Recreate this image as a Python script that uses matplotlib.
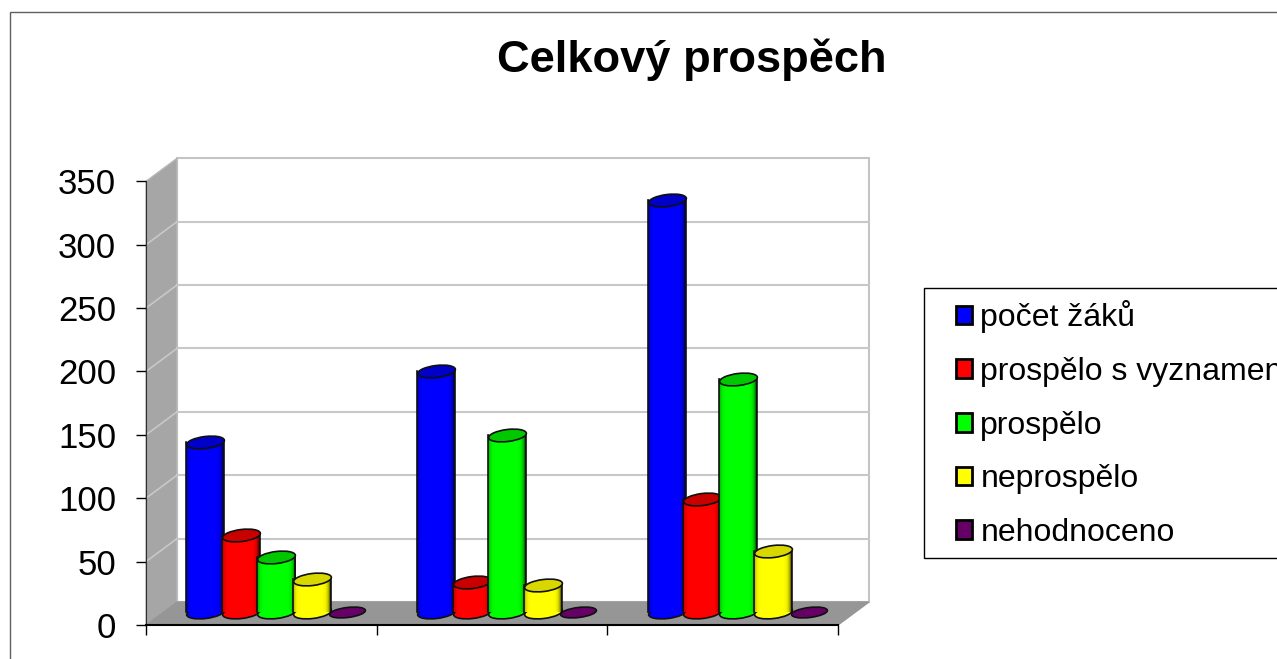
import numpy as np
import matplotlib
matplotlib.use('Agg')
import matplotlib.pyplot as plt
from matplotlib.collections import EllipseCollection
from matplotlib.patches import Polygon, Rectangle
from matplotlib.transforms import ScaledTranslation

plt.rcParams['font.family'] = ['Liberation Sans', 'DejaVu Sans']

title = 'Celkový prospěch'
series = ['počet žáků', 'prospělo s vyznamenáním', 'prospělo', 'neprospělo', 'nehodnoceno']
colors = ['#0000ff', '#ff0000', '#00ff00', '#ffff00', '#660066']
top_colors = ['#0000c8', '#c80000', '#00c800', '#d8d800', '#660066']
yticks = [0, 50, 100, 150, 200, 250, 300, 350]

pocet = [134, 190, 325]
vyznamenani = [61, 24, 89]
prospelo = [43, 140, 184]
neprospelo = [26, 21, 48]
nehodnoceno = [0, 0, 0]
values = [pocet, vyznamenani, prospelo, neprospelo, nehodnoceno]

W, H = 1277, 659
fig = plt.figure(figsize=(W / 100, H / 100), dpi=100)
fig.patch.set_facecolor('white')

# chart frame runs off the right and bottom edge of the image
fig.add_artist(Rectangle((9.5 / W, -0.1), 1.2, 1.1 - 11.5 / H, transform=fig.transFigure,
                         fill=False, edgecolor='#606060', linewidth=1))

left, right, top, bottom = 146, 838, 181.3, 625
ax = fig.add_axes([left / W, 1 - bottom / H, (right - left) / W, (bottom - top) / H])
ax.patch.set_visible(False)
px_x = (right - left) / 3
px_y = (bottom - top) / 350
dx, dy = 31 / px_x, 23 / px_y

# walls and floor
ax.add_patch(Polygon([(dx, dy), (3 + dx, dy), (3 + dx, 350 + dy), (dx, 350 + dy)], closed=True,
                     facecolor='white', edgecolor='#c4c4c4', linewidth=1.5, clip_on=False, zorder=1))
ax.add_patch(Polygon([(0, 0), (dx, dy), (dx, 350 + dy), (0, 350)], closed=True,
                     facecolor='#a6a6a6', edgecolor='#b8b8b8', linewidth=1, clip_on=False, zorder=1))
ax.add_patch(Polygon([(0, 0), (3, 0), (3 + dx, dy), (dx, dy)], closed=True,
                     facecolor='#969696', edgecolor='#969696', linewidth=1, clip_on=False, zorder=1))
for v in yticks[1:-1]:
    ax.plot([dx, 3 + dx], [v + dy, v + dy], color='#c8c8c8', lw=1.5, clip_on=False, zorder=1.5)
    ax.plot([0, dx], [v, v + dy], color='#c8c8c8', lw=1.2, clip_on=False, zorder=1.5)

# cylinders stand in the middle of the floor depth
shift = ScaledTranslation(15 / 100, 13 / 100, fig.dpi_scale_trans)
trans = ax.transData + shift

bar_step = 35.5 / px_x
bar_w = 38 / px_x
shade = np.zeros((1, 64, 4))
shade[0, :, 3] = np.abs(np.linspace(-1, 1, 64) + 0.05) ** 9 * 0.6
z = 3
for i in range(3):
    for j in range(5):
        x = i + 0.5 + (j - 2) * bar_step
        v = values[j][i]
        z += 1
        w = 38 if v > 0 else 36
        h = 12 if v > 0 else 10
        if v > 0:
            ec = EllipseCollection([w], [h], [7], units='dots', offsets=[(x, 0)], offset_transform=trans,
                                   facecolors=colors[j], edgecolors='#101010', linewidths=1.2, zorder=z)
            ax.add_collection(ec, autolim=False)
            ax.bar(x, v, width=bar_w, color=colors[j], transform=trans, zorder=z + 0.1, clip_on=False)
            ax.imshow(shade, extent=(x - bar_w / 2, x + bar_w / 2, 0, v), aspect='auto', transform=trans,
                      zorder=z + 0.2, clip_on=False, interpolation='bilinear')
            ax.plot([x - bar_w / 2, x - bar_w / 2], [0, v], color='#101010', lw=1.2, transform=trans,
                    zorder=z + 0.3, clip_on=False)
            ax.plot([x + bar_w / 2, x + bar_w / 2], [0, v], color='#101010', lw=1.2, transform=trans,
                    zorder=z + 0.3, clip_on=False)
        ec = EllipseCollection([w], [h], [7], units='dots', offsets=[(x, v)], offset_transform=trans,
                               facecolors=top_colors[j], edgecolors='#101010', linewidths=1.2, zorder=z + 0.4)
        ax.add_collection(ec, autolim=False)

ax.set_xlim(0, 3)
ax.set_ylim(0, 350)
ax.set_xticks([0, 1, 2, 3])
ax.set_xticklabels([])
ax.set_yticks(yticks)
ax.tick_params(axis='y', length=7.5, width=1, labelsize=25, pad=14)
ax.tick_params(axis='x', length=7.5, width=1)
ax.spines['top'].set_visible(False)
ax.spines['right'].set_visible(False)
ax.spines['left'].set_color('#303030')
ax.spines['bottom'].set_linewidth(1.5)

fig.text(692 / W, 1 - 60 / H, title, ha='center', va='center', fontsize=32.6, fontweight='bold')

# legend frame is separate so the entries can sit further in from its left edge
ax.add_patch(Rectangle((923.5 / W, 1 - 557.5 / H), 0.3, 270 / H, transform=fig.transFigure,
                       facecolor='white', edgecolor='black', linewidth=1, clip_on=False, zorder=500))
handles = [Rectangle((0, 0), 1, 1, facecolor=c, edgecolor='black', linewidth=2) for c in colors]
leg = ax.legend(handles, series, loc='upper left', bbox_to_anchor=(943 / W, 1 - 287.5 / H),
                bbox_transform=fig.transFigure, frameon=False,
                handlelength=0.52, handleheight=0.52, handletextpad=0.25, labelspacing=0.74, borderpad=0.4,
                borderaxespad=0, prop={'size': 23})
leg.set_zorder(600)

fig.savefig('out.png', dpi=100)
